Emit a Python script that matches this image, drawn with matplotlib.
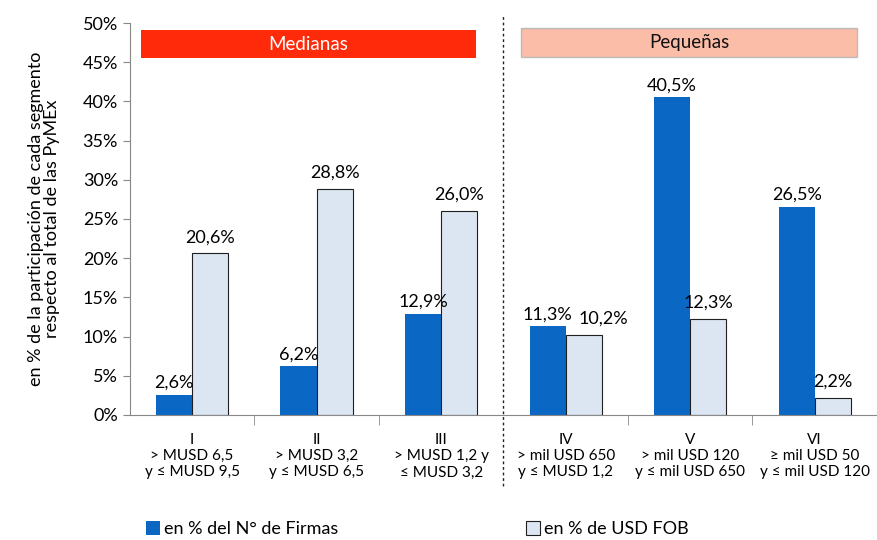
"""Participación por segmento de PyMEx: firmas vs USD FOB."""

import matplotlib
matplotlib.use("Agg")
import matplotlib.pyplot as plt
from matplotlib.patches import Rectangle
import numpy as np

plt.rcParams["font.family"] = ["Lato", "DejaVu Sans"]

categorias = [
    "I\n> MUSD 6,5\ny ≤ MUSD 9,5",
    "II\n> MUSD 3,2\ny ≤ MUSD 6,5",
    "III\n> MUSD 1,2 y\n≤ MUSD 3,2",
    "IV\n> mil USD 650\ny ≤ MUSD 1,2",
    "V\n> mil USD 120\ny ≤ mil USD 650",
    "VI\n≥ mil USD 50\ny ≤ mil USD 120",
]
firmas = [2.6, 6.2, 12.9, 11.3, 40.5, 26.5]
usd_fob = [20.6, 28.8, 26.0, 10.2, 12.3, 2.2]
serie_firmas = "en % del N° de Firmas"
serie_fob = "en % de USD FOB"

azul = "#0A68C4"
celeste = "#DCE6F2"


def fmt(v):
    return f"{v:.1f}".replace(".", ",") + "%"


fig = plt.figure(figsize=(8.77, 5.40), dpi=100)
ax = fig.add_axes([0.148, 0.2315, 0.852, 0.7259])

x = np.arange(len(categorias))
w = 0.29
b1 = ax.bar(x - w / 2, firmas, w, color=azul, label=serie_firmas)
b2 = ax.bar(x + w / 2, usd_fob, w, color=celeste, edgecolor="#1F1F1F", linewidth=0.8,
            label=serie_fob)

for rect, v in zip(b1, firmas):
    ax.annotate(fmt(v), (rect.get_x() + rect.get_width() / 2, v), xytext=(0, 3),
                textcoords="offset points", ha="center", va="bottom", fontsize=13)
for i, (rect, v) in enumerate(zip(b2, usd_fob)):
    dx = 14 if i == 3 else 0  # evitar choque con la etiqueta vecina
    ax.annotate(fmt(v), (rect.get_x() + rect.get_width() / 2, v), xytext=(dx, 6),
                textcoords="offset points", ha="center", va="bottom", fontsize=13)

ax.set_xlim(-0.5, 5.5)
ax.set_ylim(0, 50)
ax.set_yticks(np.arange(0, 51, 5))
ax.set_yticklabels([f"{t}%" for t in range(0, 51, 5)], fontsize=13)
ax.set_xticks(x)
ax.set_xticklabels(categorias, fontsize=11, linespacing=1.2)
ax.tick_params(axis="x", length=0, pad=13)
ax.set_xticks([0.5, 1.5, 3.5, 4.5], minor=True)
ax.tick_params(axis="x", which="minor", length=7, color="#888888")
ax.tick_params(axis="y", length=5, color="#888888")

for s in ["top", "right"]:
    ax.spines[s].set_visible(False)
ax.spines["left"].set_color("#888888")
ax.spines["bottom"].set_color("#888888")

ax.set_ylabel("en % de la participación de cada segmento\nrespecto al total de las PyMEx",
              fontsize=13, labelpad=16, linespacing=1.0)

# línea divisoria
ax.plot([2.5, 2.5], [-0.18, 1.02], transform=ax.get_xaxis_transform(), color="#222222",
        linestyle=(0, (2, 2)), linewidth=1, clip_on=False)

# encabezados
ax.add_patch(Rectangle((-0.41, 45.5), 2.69, 3.6, facecolor="#FF2A0A", edgecolor="none",
                       clip_on=False))
ax.text(0.935, 47.3, "Medianas", ha="center", va="center", color="white", fontsize=13.5)
ax.add_patch(Rectangle((2.64, 45.6), 2.7, 3.7, facecolor="#FBBCA8", edgecolor="#BBBBBB",
                       linewidth=1, clip_on=False))
ax.text(3.99, 47.45, "Pequeñas", ha="center", va="center", color="#111111", fontsize=13.5)

fig.legend(handles=[b1, b2], loc="lower left", bbox_to_anchor=(0.148, -0.025), ncol=2,
           frameon=False, fontsize=13, handlelength=0.75, handleheight=0.75,
           handletextpad=0.25, columnspacing=10.4)

fig.savefig("out.png", dpi=100)
